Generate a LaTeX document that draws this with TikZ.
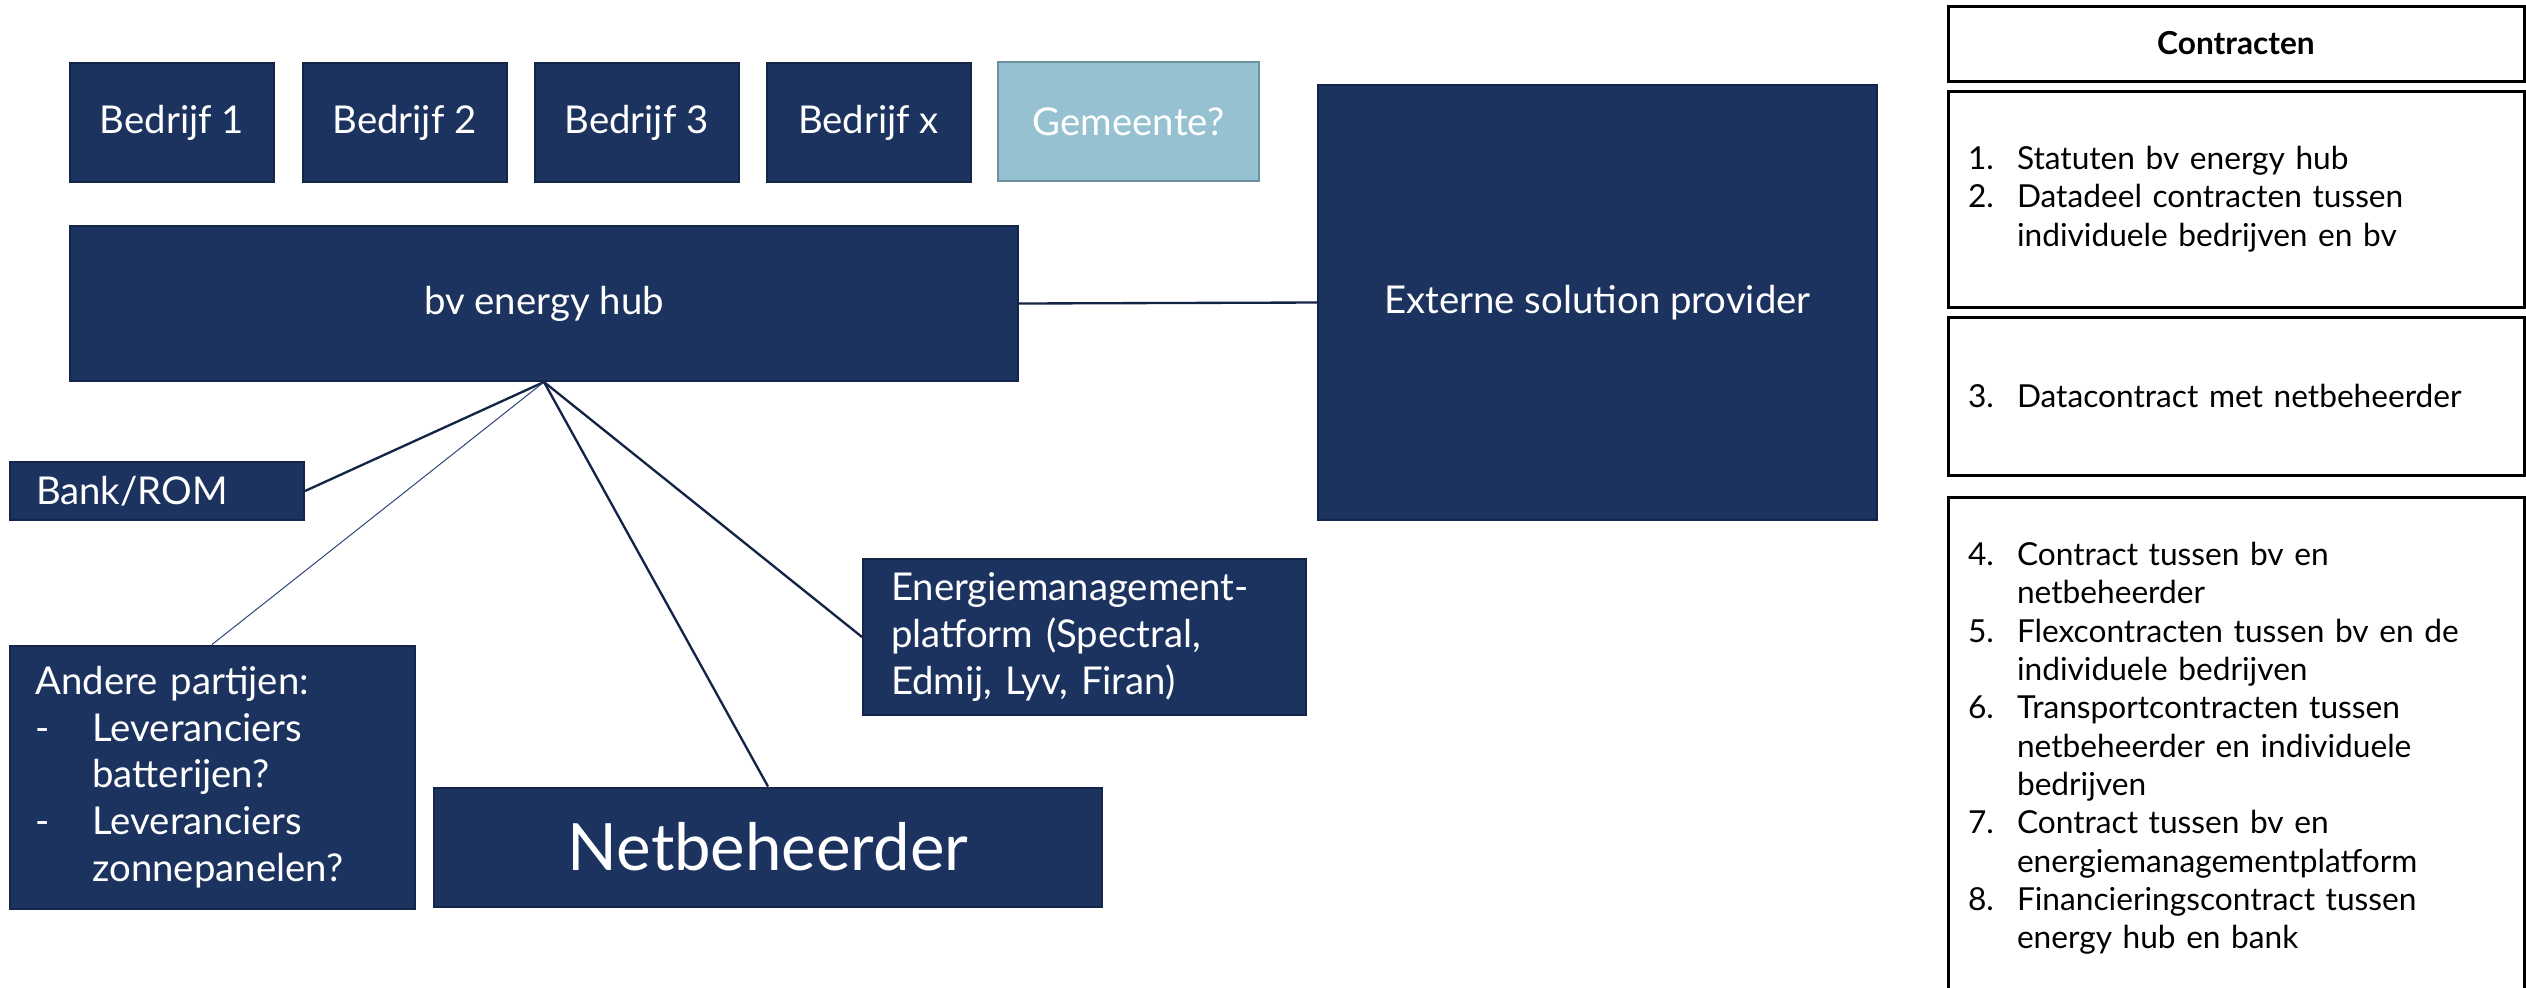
\documentclass[tikz,border=0pt]{standalone}
\usepackage{fontspec}
\setmainfont{Lato}

\definecolor{hubnavy}{RGB}{28,51,96}
\definecolor{hubrand}{RGB}{20,37,74}
\definecolor{hubline}{RGB}{20,36,70}
\definecolor{dunline}{RGB}{46,70,118}
\definecolor{gemblauw}{RGB}{150,193,209}
\definecolor{gemrand}{RGB}{110,145,158}

\tikzstyle{party}=[draw=hubrand,line width=0.6pt,fill=hubnavy,text=white,inner sep=0pt,font=\fontsize{11.5}{13.8}\selectfont]
\tikzstyle{bedrijf}=[party,minimum width=61.2pt,minimum height=35.7pt]
\tikzstyle{partylist}=[party,align=left,inner xsep=7.8pt]
\tikzstyle{contract}=[draw=black,line width=0.9pt,fill=white,inner xsep=6pt,inner ysep=0pt,text width=160.8pt,align=left,font=\fontsize{9.5}{11.5}\selectfont]
\tikzstyle{edge}=[draw,hubline,line width=0.7pt]
\tikzstyle{thinedge}=[draw,dunline,line width=0.3pt]
\newcommand{\lijstnr}[1]{\makebox[14.7pt][l]{#1}}
\newcommand{\lijststreep}[1]{\makebox[17.1pt][l]{#1}}

\begin{document}
\begin{tikzpicture}[x=0.3pt,y=-0.3pt]
    \clip (0,0) rectangle (2526,987);
    % First the companies on top
    \foreach \pos/\name/\txt in {172/b1/Bedrijf 1, 404.5/b2/Bedrijf 2, 636.5/b3/Bedrijf 3, 868.5/bx/Bedrijf x}
        \node[bedrijf] (\name) at (\pos,122.5) {\txt};
    \node[bedrijf,fill=gemblauw,draw=gemrand,minimum width=78.3pt] (gem) at (1128.5,121.5) {Gemeente?};
    % The hub and the parties round it
    \node[party,minimum width=284.4pt,minimum height=46.5pt] (hub) at (544,303.5) {bv energy hub};
    \node[party,minimum width=167.7pt,minimum height=130.5pt] (ext) at (1597.5,302.5) {Externe solution provider};
    \node[partylist,text width=72.6pt,minimum height=17.4pt] (bank) at (157,491) {Bank/ROM};
    \node[partylist,text width=105.9pt,minimum height=78.9pt,font=\fontsize{11.5}{14}\selectfont] (andere) at (212,777)
        {Andere partijen:\\ \lijststreep{-}Leveranciers\\ \lijststreep{}batterijen?\\ \lijststreep{-}Leveranciers\\ \lijststreep{}zonnepanelen?};
    \node[party,minimum width=200.4pt,minimum height=35.7pt,font=\fontsize{19.6}{23}\selectfont] (net) at (768,847) {Netbeheerder};
    \node[partylist,text width=116.1pt,inner xsep=8.4pt,minimum height=46.8pt,font=\fontsize{11.5}{14.1}\selectfont] (ems) at (1084.5,637)
        {Energiemanagement-\\platform (Spectral,\\Edmij, Lyv, Firan)};
    % Connect the hub with the parties
    \foreach \dest/\stijl in {bank.east/edge, andere.north/thinedge, net.north/edge, ems.west/edge}
        \path[\stijl] (hub.south) -- (\dest);
    \path[edge] (hub.east) -- (ext.west);
    % The contracts column
    \node[contract,align=center,minimum height=22.5pt,font=\bfseries\fontsize{9.5}{11.5}\selectfont] (ctitel) at (2236,43.5) {Contracten};
    \node[contract,minimum height=64.8pt] (c1) at (2236,199)
        {\lijstnr{1.}Statuten bv energy hub\\ \lijstnr{2.}Datadeel contracten tussen\\ \lijstnr{}individuele bedrijven en bv};
    \node[contract,minimum height=47.4pt] (c2) at (2236,396)
        {\lijstnr{3.}Datacontract met netbeheerder};
    \node[contract,minimum height=150.9pt] (c3) at (2236,748.5)
        {\lijstnr{4.}Contract tussen bv en\\ \lijstnr{}netbeheerder\\
         \lijstnr{5.}Flexcontracten tussen bv en de\\ \lijstnr{}individuele bedrijven\\
         \lijstnr{6.}Transportcontracten tussen\\ \lijstnr{}netbeheerder en individuele\\ \lijstnr{}bedrijven\\
         \lijstnr{7.}Contract tussen bv en\\ \lijstnr{}energiemanagementplatform\\
         \lijstnr{8.}Financieringscontract tussen\\ \lijstnr{}energy hub en bank};
\end{tikzpicture}
\end{document}
